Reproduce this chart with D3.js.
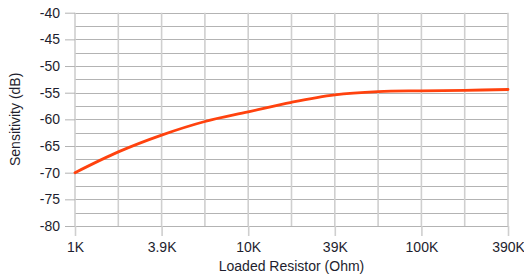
<!DOCTYPE html>
<html>
<head>
<meta charset="utf-8">
<script src="https://cdn.jsdelivr.net/npm/d3@7"></script>
<style>
  body { margin: 0; background: #fff; }
  text { font-family: "Liberation Sans", Arial, sans-serif; fill: #1e1e2e; }
</style>
</head>
<body>
<div class="chart"></div>
<script>
const resistors = ["1K", "2.2K", "3.9K", "6.8K", "10K", "22K", "39K", "68K", "100K", "220K", "390K"];
const shownLabels = ["1K", "3.9K", "10K", "39K", "100K", "390K"];
const sensitivity = [-70, -66.1, -62.95, -60.4, -58.6, -56.8, -55.4, -54.8, -54.65, -54.55, -54.4];
const yTicks = [-80, -75, -70, -65, -60, -55, -50, -45, -40];

const width = 524, height = 276;
const plotLeft = 75, plotRight = 508, plotTop = 12.7, plotBottom = 226;

const svg = d3.select(".chart")
  .append("svg")
  .attr("width", width)
  .attr("height", height);

const x = d3.scalePoint()
  .domain(resistors)
  .range([plotLeft, plotRight]);

const y = d3.scaleLinear()
  .domain([-80, -40])
  .range([plotBottom, plotTop]);

// minor horizontal grid (every 2.5 dB)
const minor = d3.range(-80, -39, 2.5);
svg.append("g")
  .selectAll("line")
  .data(minor)
  .enter()
  .append("line")
  .attr("x1", plotLeft)
  .attr("x2", plotRight)
  .attr("y1", d => Math.round(y(d)) + 0.5)
  .attr("y2", d => Math.round(y(d)) + 0.5)
  .attr("stroke", "#b3b3b3")
  .attr("stroke-width", 1);

// vertical grid
svg.append("g")
  .selectAll("line")
  .data(resistors)
  .enter()
  .append("line")
  .attr("x1", d => x(d))
  .attr("x2", d => x(d))
  .attr("y1", plotTop)
  .attr("y2", plotBottom)
  .attr("stroke", "#cfcfcf")
  .attr("stroke-width", 1.6);

// y axis
const yAxis = d3.axisLeft(y)
  .tickValues(yTicks)
  .tickFormat(d => String(d))
  .tickSize(10)
  .tickPadding(5);

const gy = svg.append("g")
  .attr("transform", `translate(${plotLeft},0)`)
  .call(yAxis);
gy.select(".domain").remove();
gy.selectAll(".tick line").attr("stroke", "#b3b3b3");
gy.selectAll("text").style("font-size", "14px").attr("fill", "#1e1e2e");

// x axis
const xAxis = d3.axisBottom(x)
  .tickValues(shownLabels)
  .tickSize(10)
  .tickPadding(6);

const gx = svg.append("g")
  .attr("transform", `translate(0,${plotBottom})`)
  .call(xAxis);
gx.select(".domain").remove();
gx.selectAll(".tick line").attr("stroke", "#cfcfcf").attr("stroke-width", 1.6);
gx.selectAll("text").style("font-size", "14px").attr("fill", "#1e1e2e");

// curve
const line = d3.line()
  .x((d, i) => x(resistors[i]))
  .y(d => y(d))
  .curve(d3.curveCatmullRom.alpha(0.5));

svg.append("path")
  .datum(sensitivity)
  .attr("d", line)
  .attr("fill", "none")
  .attr("stroke", "#ff420e")
  .attr("stroke-width", 2.8)
  .attr("stroke-linecap", "round");

// axis titles
svg.append("text")
  .attr("x", (plotLeft + plotRight) / 2)
  .attr("y", 271)
  .attr("text-anchor", "middle")
  .style("font-size", "14px")
  .text("Loaded Resistor (Ohm)");

svg.append("text")
  .attr("transform", `translate(20,${(plotTop + plotBottom) / 2}) rotate(-90)`)
  .attr("text-anchor", "middle")
  .style("font-size", "14px")
  .text("Sensitivity (dB)");
</script>
</body>
</html>
